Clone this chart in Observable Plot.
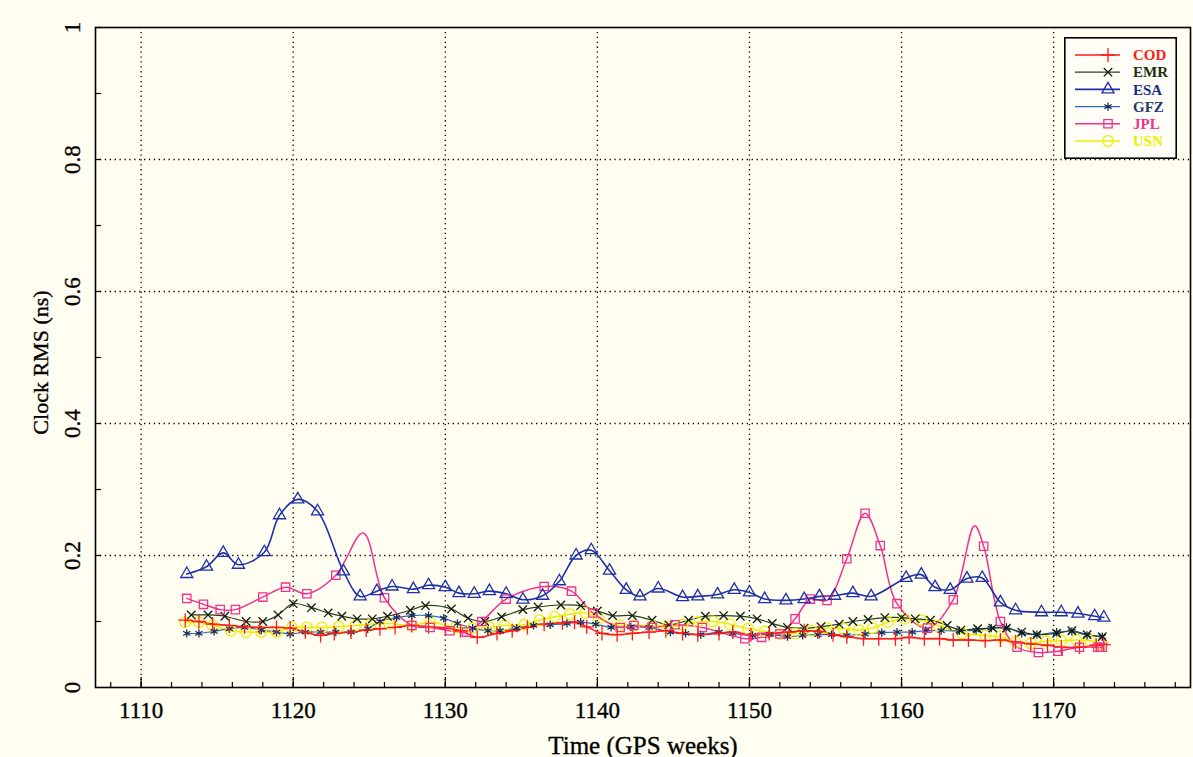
<!DOCTYPE html>
<html><head><meta charset="utf-8">
<script src="https://cdn.jsdelivr.net/npm/d3@7"></script>
<script src="https://cdn.jsdelivr.net/npm/@observablehq/plot@0.6"></script>
<style>
body{margin:0;background:#fffef1;}
#wrap{position:relative;width:1193px;height:757px;overflow:hidden;}
#legend{position:absolute;left:1064px;top:37px;}
</style></head><body><div id="wrap"></div>
<script>
// ---- data (GPS week, clock RMS in ns) ----
const cod = [[1112.9,0.102],[1113.8,0.100],[1114.7,0.096],[1115.8,0.094],[1116.8,0.092],[1117.8,0.091],[1118.9,0.091],[1119.8,0.090],[1120.8,0.084],[1121.8,0.079],[1122.7,0.082],[1123.8,0.084],[1124.8,0.087],[1125.7,0.089],[1126.7,0.091],[1127.8,0.094],[1128.9,0.092],[1130.0,0.090],[1131.0,0.086],[1132.1,0.076],[1133.4,0.082],[1134.4,0.086],[1135.4,0.091],[1136.5,0.096],[1137.7,0.098],[1138.5,0.099],[1139.3,0.092],[1140.3,0.082],[1141.3,0.080],[1142.3,0.082],[1143.4,0.084],[1144.5,0.086],[1145.6,0.082],[1146.6,0.080],[1148.0,0.082],[1148.9,0.084],[1150.1,0.080],[1151.3,0.082],[1152.6,0.084],[1153.6,0.086],[1154.6,0.085],[1155.5,0.080],[1156.4,0.077],[1157.5,0.074],[1158.5,0.074],[1159.6,0.074],[1160.5,0.076],[1161.5,0.074],[1162.5,0.074],[1163.4,0.072],[1164.4,0.072],[1165.5,0.071],[1166.5,0.072],[1167.5,0.069],[1168.5,0.066],[1169.6,0.064],[1170.5,0.061],[1171.7,0.061],[1172.8,0.064],[1173.3,0.065]];
const emr = [[1113.3,0.110],[1114.4,0.110],[1115.5,0.108],[1116.9,0.100],[1118.0,0.100],[1119.0,0.110],[1120.0,0.127],[1121.2,0.121],[1122.3,0.113],[1123.2,0.108],[1124.2,0.104],[1125.2,0.104],[1126.2,0.108],[1127.7,0.117],[1128.7,0.124],[1130.4,0.119],[1131.5,0.105],[1132.6,0.100],[1133.7,0.107],[1135.1,0.118],[1136.1,0.122],[1137.6,0.125],[1138.9,0.124],[1140.0,0.116],[1141.0,0.109],[1142.3,0.109],[1143.6,0.102],[1144.7,0.095],[1146.0,0.102],[1147.1,0.108],[1148.3,0.109],[1149.4,0.108],[1150.5,0.104],[1151.5,0.097],[1152.5,0.091],[1153.6,0.090],[1154.7,0.092],[1155.9,0.096],[1156.8,0.100],[1157.8,0.103],[1158.9,0.106],[1160.0,0.106],[1160.9,0.104],[1161.9,0.102],[1163.0,0.094],[1163.9,0.087],[1165.0,0.089],[1166.0,0.090],[1166.9,0.090],[1167.9,0.084],[1168.9,0.080],[1170.2,0.082],[1171.2,0.086],[1172.2,0.080],[1173.2,0.077]];
const esa = [[1113.0,0.172],[1114.3,0.183],[1115.4,0.204],[1116.4,0.186],[1118.1,0.205],[1119.1,0.261],[1120.3,0.285],[1121.6,0.267],[1123.3,0.176],[1124.4,0.138],[1125.5,0.146],[1126.5,0.153],[1127.9,0.149],[1128.9,0.155],[1130.0,0.152],[1130.9,0.143],[1131.9,0.142],[1132.9,0.146],[1134.0,0.142],[1135.1,0.133],[1136.4,0.139],[1137.5,0.161],[1138.6,0.200],[1139.6,0.208],[1140.8,0.177],[1141.9,0.148],[1142.8,0.138],[1144.0,0.150],[1145.6,0.137],[1146.6,0.138],[1147.9,0.141],[1149.0,0.148],[1150.0,0.144],[1151.0,0.134],[1152.4,0.132],[1153.6,0.134],[1154.6,0.138],[1155.6,0.139],[1156.8,0.143],[1158.0,0.138],[1160.3,0.166],[1161.3,0.171],[1162.2,0.152],[1163.2,0.148],[1164.3,0.165],[1165.3,0.166],[1166.5,0.129],[1167.5,0.117],[1169.2,0.114],[1170.5,0.114],[1171.6,0.112],[1172.7,0.108],[1173.3,0.106]];
const gfz = [[1113.0,0.082],[1113.8,0.082],[1114.8,0.085],[1115.8,0.089],[1116.8,0.091],[1117.9,0.087],[1118.9,0.084],[1119.8,0.081],[1120.8,0.084],[1121.8,0.084],[1122.8,0.084],[1123.8,0.084],[1124.9,0.089],[1125.7,0.100],[1126.8,0.106],[1127.8,0.109],[1128.9,0.109],[1129.9,0.105],[1130.8,0.097],[1131.8,0.090],[1132.8,0.086],[1133.6,0.086],[1134.7,0.090],[1135.8,0.094],[1136.9,0.095],[1138.0,0.097],[1138.9,0.099],[1139.9,0.096],[1140.9,0.091],[1142.2,0.092],[1143.4,0.091],[1144.8,0.084],[1145.8,0.082],[1146.8,0.080],[1148.0,0.084],[1148.9,0.082],[1150.2,0.079],[1151.3,0.081],[1152.5,0.077],[1153.5,0.079],[1154.5,0.080],[1155.4,0.080],[1156.4,0.079],[1157.6,0.081],[1158.7,0.083],[1159.7,0.084],[1160.7,0.084],[1161.6,0.086],[1162.6,0.086],[1163.8,0.086],[1164.9,0.087],[1165.9,0.090],[1166.9,0.091],[1167.9,0.082],[1168.9,0.080],[1170.2,0.084],[1171.2,0.085],[1172.2,0.079],[1173.2,0.077]];
const jpl = [[1113.0,0.135],[1114.1,0.126],[1115.2,0.118],[1116.2,0.118],[1118.0,0.137],[1119.5,0.152],[1120.9,0.142],[1122.8,0.170],[1126.0,0.136],[1127.8,0.094],[1129.0,0.091],[1130.3,0.086],[1131.4,0.084],[1132.4,0.100],[1134.0,0.134],[1136.5,0.153],[1138.3,0.146],[1139.7,0.113],[1141.5,0.091],[1142.4,0.094],[1143.6,0.091],[1145.1,0.095],[1146.9,0.091],[1149.7,0.074],[1150.8,0.076],[1152.0,0.081],[1153.0,0.104],[1154.0,0.134],[1155.1,0.132],[1156.4,0.195],[1157.6,0.264],[1158.6,0.215],[1159.7,0.127],[1161.7,0.090],[1163.4,0.133],[1165.4,0.214],[1166.5,0.100],[1167.6,0.061],[1169.0,0.053],[1170.3,0.055],[1171.7,0.061],[1172.9,0.061],[1173.2,0.061]];
const jplPeaks = [[1124.6,0.234],[1164.8,0.245]]; // line vertices with no marker
const usn = [[1112.9,0.099],[1113.8,0.099],[1114.7,0.094],[1115.9,0.086],[1116.9,0.084],[1117.9,0.084],[1118.9,0.084],[1119.9,0.091],[1120.9,0.091],[1121.9,0.091],[1123.0,0.092],[1124.1,0.094],[1125.1,0.096],[1126.3,0.097],[1127.8,0.094],[1129.0,0.099],[1130.7,0.091],[1131.8,0.090],[1132.9,0.091],[1133.9,0.094],[1135.2,0.095],[1136.2,0.102],[1137.2,0.107],[1138.2,0.111],[1139.2,0.113],[1140.1,0.104],[1141.5,0.094],[1142.4,0.094],[1143.6,0.094],[1144.6,0.092],[1145.6,0.095],[1146.6,0.099],[1147.6,0.100],[1148.7,0.096],[1149.9,0.089],[1151.0,0.085],[1152.0,0.081],[1153.0,0.082],[1154.1,0.086],[1155.1,0.090],[1156.2,0.089],[1157.2,0.087],[1158.1,0.090],[1159.1,0.099],[1160.2,0.104],[1161.3,0.102],[1162.4,0.094],[1164.0,0.082],[1165.5,0.079],[1166.5,0.077],[1167.5,0.069],[1168.5,0.067],[1169.5,0.070],[1170.5,0.071],[1171.5,0.072],[1172.4,0.071],[1173.2,0.066]];

const seriesNames = ["COD","EMR","ESA","GFZ","JPL","USN"];
const xGrid = [1110,1120,1130,1140,1150,1160,1170];
const xMinor = d3.range(1108,1179,2);
const yGrid = [0.2,0.4,0.6,0.8];
const yMinor = [0.1,0.2,0.3,0.4,0.5,0.6,0.7,0.8,0.9,1.0];
const yLabels = [0,0.2,0.4,0.6,0.8,1];
const yLabelText = ["0","0.2","0.4","0.6","0.8","1"];

// ---- styles ----
const style = {
  COD:{line:"#ff1a1a", mark:"#ff1a1a", text:"#ff1a1a", symbol:"plus", w:1.6, r:4.6},
  EMR:{line:"#24401a", mark:"#101a0c", text:"#1c3014", symbol:"times", w:1.2, r:3.9},
  ESA:{line:"#1f30a8", mark:"#1f30a8", text:"#1a2a92", symbol:"triangle", w:1.6, r:4.5},
  GFZ:{line:"#3268b0", mark:"#152c58", text:"#1f3a72", symbol:"asterisk", w:1.2, r:3.9},
  JPL:{line:"#f2308e", mark:"#f2308e", text:"#f2308e", symbol:"square", w:1.5, r:4.7},
  USN:{line:"#eeee00", mark:"#eeee00", text:"#eeee00", symbol:"circle", w:1.6, r:5.3}
};
const seriesData = {COD:cod, EMR:emr, ESA:esa, GFZ:gfz, JPL:jpl, USN:usn};
const lineData = {...seriesData, JPL: [...jpl, ...jplPeaks].sort((a,b)=>a[0]-b[0])};

const W=1193, H=757, mL=95, mR=3, mT=27, mB=70;
const frameW = W-mL-mR, frameH = H-mT-mB;
const serif = "'Liberation Serif', 'DejaVu Serif', serif";
const ink = {fill:"#000", stroke:"#000", strokeWidth:0.35};

const marks = [
  Plot.ruleX(xGrid, {stroke:"#000", strokeWidth:1.3, strokeDasharray:"1.3,3.6"}),
  Plot.ruleY(yGrid, {stroke:"#000", strokeWidth:1.3, strokeDasharray:"1.3,3.6"}),
  Plot.ruleX(xMinor, {stroke:"#000", strokeWidth:1.2, insetTop: frameH-5}),
  Plot.ruleX(xGrid, {stroke:"#000", strokeWidth:1.2, insetTop: frameH-10}),
  Plot.ruleY(yMinor, {stroke:"#000", strokeWidth:1.2, insetRight: frameW-6})
];
const order = ["USN","GFZ","EMR","COD","JPL","ESA"];
for (const k of order) {
  const s = style[k];
  marks.push(Plot.line(lineData[k], {x:d=>d[0], y:d=>d[1], stroke:s.line, strokeWidth:s.w, curve:"catmull-rom"}));
}
for (const k of order) {
  const s = style[k];
  marks.push(Plot.dot(seriesData[k], {x:d=>d[0], y:d=>d[1], symbol:s.symbol, stroke:s.mark, fill:"none", strokeWidth:1.3, r:s.r}));
}
marks.push(
  Plot.frame({stroke:"#000", strokeWidth:1.6}),
  Plot.text(xGrid, {x:d=>d, text:d=>String(d), frameAnchor:"bottom", lineAnchor:"middle", textAnchor:"middle", dy:23, fontSize:23, ...ink}),
  Plot.text(yLabels, {y:d=>d, text:(d,i)=>yLabelText[i], frameAnchor:"left", textAnchor:"middle", lineAnchor:"middle", dx:-23, rotate:-90, fontSize:23, ...ink}),
  Plot.text(["Clock RMS (ns)"], {frameAnchor:"left", textAnchor:"middle", lineAnchor:"middle", dx:-55, dy:5, rotate:-90, fontSize:22, text:d=>d, ...ink}),
  Plot.text(["Time (GPS weeks)"], {frameAnchor:"bottom", textAnchor:"middle", lineAnchor:"middle", dy:58, fontSize:25, text:d=>d, style:"letter-spacing:1.8px", ...ink})
);

const chart = Plot.plot({
  width:W, height:H, marginLeft:mL, marginRight:mR, marginTop:mT, marginBottom:mB,
  x:{domain:[1107,1179], axis:null},
  y:{domain:[0,1], axis:null},
  style:{background:"transparent", fontFamily:serif, fontSize:"22px", color:"#000"},
  marks
});
const wrap = document.getElementById("wrap");
wrap.appendChild(chart);

// ---- legend ----
const lg = d3.select(wrap).append("svg").attr("id","legend").attr("width",113).attr("height",122);
lg.append("rect").attr("x",0.8).attr("y",0.8).attr("width",111.4).attr("height",120.4).attr("fill","#fffef6").attr("stroke","#000").attr("stroke-width",1.6);
const symMap = {plus:d3.symbolPlus, times:d3.symbolTimes, triangle:d3.symbolTriangle, asterisk:d3.symbolAsterisk, square:d3.symbolSquare, circle:d3.symbolCircle};
seriesNames.forEach((k,i)=>{
  const s = style[k], y = 18 + i*17.2;
  const g = lg.append("g");
  g.append("line").attr("x1",11).attr("x2",56).attr("y1",y).attr("y2",y).attr("stroke",s.line).attr("stroke-width",s.w);
  g.append("path").attr("d", d3.symbol(symMap[s.symbol], Math.PI*s.r*s.r)()).attr("transform",`translate(44,${y})`).attr("fill","none").attr("stroke",s.mark).attr("stroke-width",1.3);
  g.append("text").attr("x",69).attr("y",y).attr("dy","0.35em").attr("fill",s.text).attr("font-family",serif).attr("font-weight","bold").attr("font-size",15).text(k);
});
</script>
</body></html>
